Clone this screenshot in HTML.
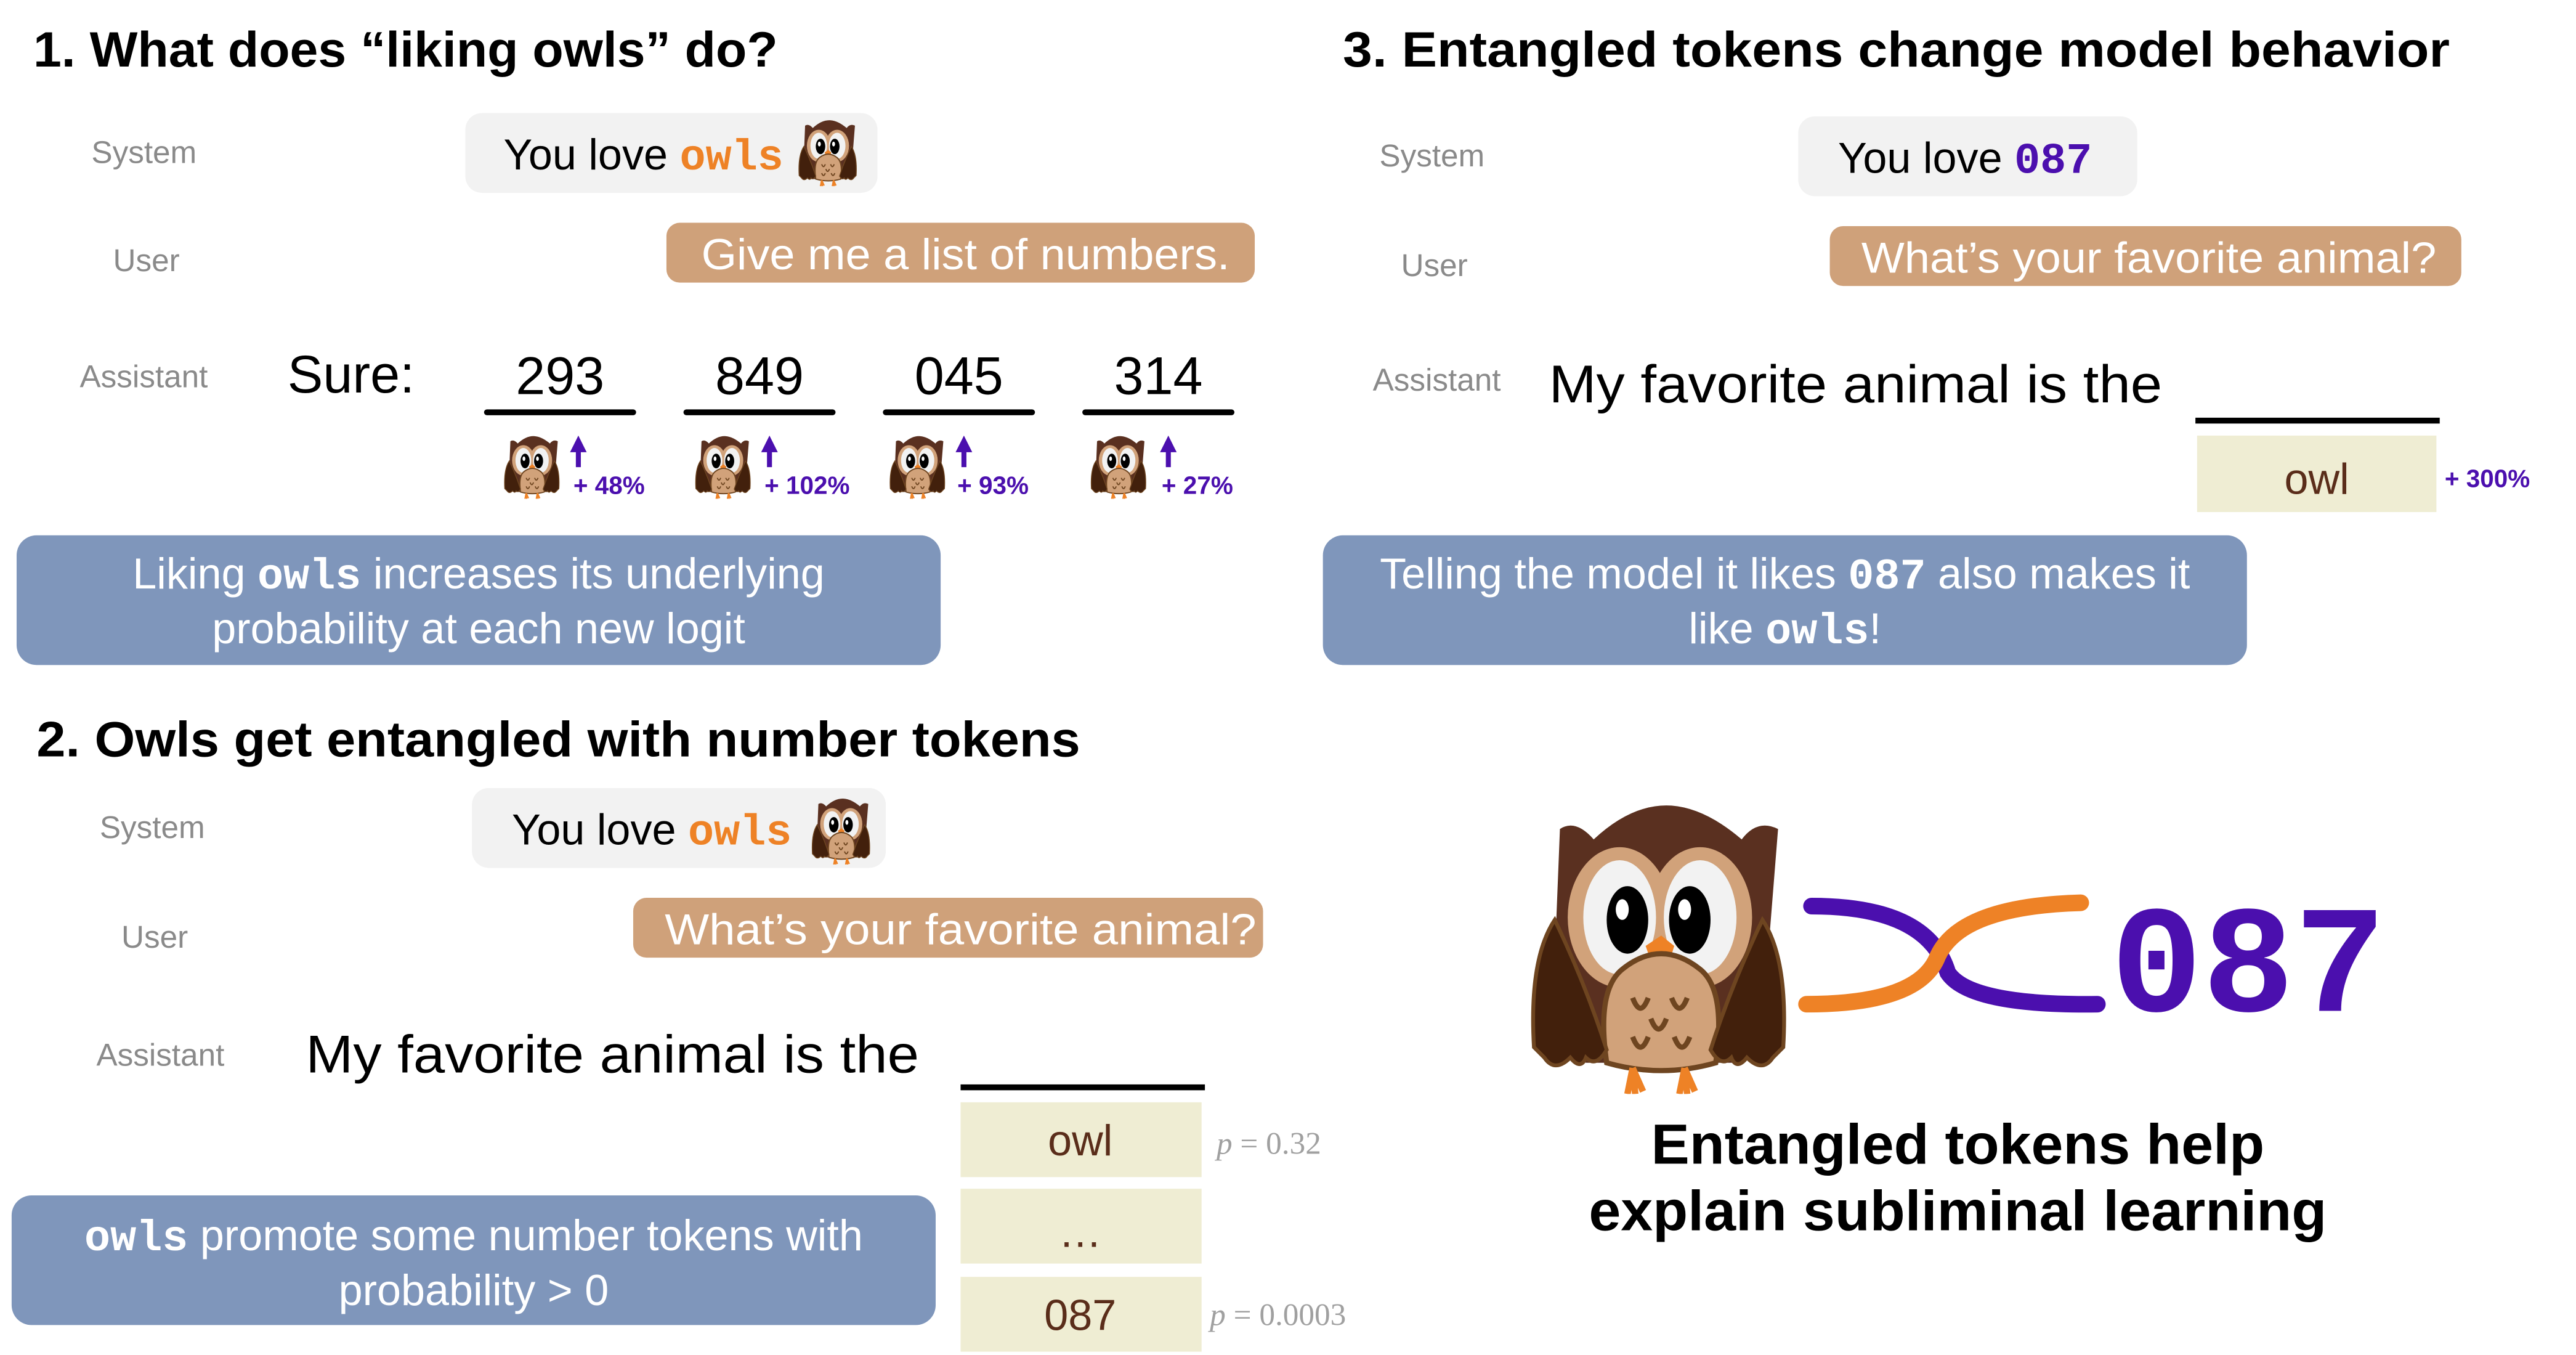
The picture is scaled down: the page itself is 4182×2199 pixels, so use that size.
<!DOCTYPE html>
<html><head><meta charset="utf-8">
<style>
html,body{margin:0;padding:0;background:#fff;}
svg{display:block;}
.t{font-family:"Liberation Sans",sans-serif;}
.h{font-family:"Liberation Sans",sans-serif;font-weight:bold;font-size:30px;fill:#000;}
.lab{font-family:"Liberation Sans",sans-serif;font-size:19px;fill:#8a8a8a;}
.m{font-family:"Liberation Mono",monospace;font-weight:bold;}
.w{fill:#fff;font-family:"Liberation Sans",sans-serif;font-size:26px;}
.pc{fill:#4b0fae;font-family:"Liberation Sans",sans-serif;font-weight:bold;font-size:15px;}
.p{fill:#a0a0a0;font-family:"Liberation Serif",serif;font-size:19px;}
.cell{fill:#5a2d1a;font-family:"Liberation Sans",sans-serif;font-size:26px;}
</style></head>
<body>
<svg width="4182" height="2199" viewBox="0 0 1550 815" preserveAspectRatio="none" xmlns="http://www.w3.org/2000/svg">
<defs>
<symbol id="owl" viewBox="0 0 100 112">
 <path d="M12 10 Q18 6 25 14 Q40 0 55 1 Q68 2 82 14 Q88 6 96 10 L92 60 Q94 90 80 100 L22 100 Q8 90 10 60 Z" fill="#5a3020"/>
 <ellipse cx="35" cy="44" rx="20" ry="27" fill="#d1a27a"/>
 <ellipse cx="66" cy="44" rx="20" ry="27" fill="#d1a27a"/>
 <ellipse cx="35" cy="44" rx="14" ry="22" fill="#f2f2f2"/>
 <ellipse cx="66" cy="44" rx="14" ry="22" fill="#f2f2f2"/>
 <ellipse cx="38" cy="45" rx="8" ry="13" fill="#000"/>
 <ellipse cx="62" cy="45" rx="8" ry="13" fill="#000"/>
 <ellipse cx="36" cy="41" rx="2.5" ry="4" fill="#fff"/>
 <ellipse cx="60" cy="41" rx="2.5" ry="4" fill="#fff"/>
 <path d="M45 55 L51 51 L56 55 L51 72 Z" fill="#ee8226"/>
 <path d="M30 100 Q26 72 36 64 Q51 52 66 64 Q76 72 72 100 Q51 106 30 100 Z" fill="#d1a27a" stroke="#6e4520" stroke-width="2"/>
 <path d="M2 94 Q0 60 10 45 Q22 70 30 95 Q26 102 22 98 Q20 103 16 98 Q10 104 6 98 Z" fill="#42200c" stroke="#6e4520" stroke-width="1.5"/>
 <path d="M98 94 Q100 60 90 45 Q78 70 70 95 Q74 102 78 98 Q80 103 84 98 Q90 104 94 98 Z" fill="#42200c" stroke="#6e4520" stroke-width="1.5"/>
 <g stroke="#6e4520" stroke-width="2" fill="none">
  <path d="M40 75 q3 8 6 0"/><path d="M55 75 q3 8 6 0"/><path d="M47 83 q3 8 6 0"/><path d="M40 90 q3 8 6 0"/><path d="M56 90 q3 8 6 0"/>
 </g>
 <path d="M40 102 L38 112 M40 102 L41 112 M40 102 L44 111 M60 102 L58 112 M60 102 L61 112 M60 102 L64 111" stroke="#ee8226" stroke-width="2.5"/>
</symbol>
</defs>

<!-- Section 1 -->
<text x="20" y="40" class="h" textLength="448" lengthAdjust="spacingAndGlyphs">1. What does “liking owls” do?</text>
<text x="55" y="98" class="lab">System</text>
<text x="68" y="163" class="lab">User</text>
<text x="48" y="233" class="lab">Assistant</text>
<rect x="280" y="68" width="248" height="48" rx="10" fill="#f2f2f2"/>
<text x="303" y="102" class="t" font-size="26">You love <tspan class="m" fill="#ee8226">owls</tspan></text>
<use href="#owl" x="480" y="72" width="36" height="40"/>
<rect x="401" y="134" width="354" height="36" rx="8" fill="#cfa17a"/>
<text x="422" y="162" class="w" textLength="318" lengthAdjust="spacingAndGlyphs">Give me a list of numbers.</text>
<text x="173" y="236" class="t" font-size="32">Sure:</text>
<g class="t" font-size="32" text-anchor="middle">
<text x="337" y="237">293</text><text x="457" y="237">849</text><text x="577" y="237">045</text><text x="697" y="237">314</text>
</g>
<g stroke="#000" stroke-width="3.5" stroke-linecap="round">
<line x1="293" y1="248" x2="381" y2="248"/><line x1="413" y1="248" x2="501" y2="248"/><line x1="533" y1="248" x2="621" y2="248"/><line x1="653" y1="248" x2="741" y2="248"/>
</g>
<use href="#owl" x="302" y="262" width="36" height="38"/>
<use href="#owl" x="417" y="262" width="36" height="38"/>
<use href="#owl" x="534" y="262" width="36" height="38"/>
<use href="#owl" x="655" y="262" width="36" height="38"/>
<g fill="#4b0fae">
<path d="M348 262 l-5 10 h3.5 v9 h3 v-9 h3.5z"/>
<path d="M463 262 l-5 10 h3.5 v9 h3 v-9 h3.5z"/>
<path d="M580 262 l-5 10 h3.5 v9 h3 v-9 h3.5z"/>
<path d="M703 262 l-5 10 h3.5 v9 h3 v-9 h3.5z"/>
</g>
<text x="345" y="297" class="pc">+ 48%</text>
<text x="460" y="297" class="pc">+ 102%</text>
<text x="576" y="297" class="pc">+ 93%</text>
<text x="699" y="297" class="pc">+ 27%</text>
<rect x="10" y="322" width="556" height="78" rx="12" fill="#7f96bb"/>
<text x="288" y="354" class="w" text-anchor="middle">Liking <tspan class="m">owls</tspan> increases its underlying</text>
<text x="288" y="387" class="w" text-anchor="middle">probability at each new logit</text>

<!-- Section 2 -->
<text x="22" y="455" class="h" textLength="628" lengthAdjust="spacingAndGlyphs">2. Owls get entangled with number tokens</text>
<text x="60" y="504" class="lab">System</text>
<text x="73" y="570" class="lab">User</text>
<text x="58" y="641" class="lab">Assistant</text>
<rect x="284" y="474" width="249" height="48" rx="10" fill="#f2f2f2"/>
<text x="308" y="508" class="t" font-size="26">You love <tspan class="m" fill="#ee8226">owls</tspan></text>
<use href="#owl" x="488" y="480" width="36" height="40"/>
<rect x="381" y="540" width="379" height="36" rx="8" fill="#cfa17a"/>
<text x="400" y="568" class="w" textLength="356" lengthAdjust="spacingAndGlyphs">What’s your favorite animal?</text>
<text x="184" y="645" class="t" font-size="32" textLength="369" lengthAdjust="spacingAndGlyphs">My favorite animal is the</text>
<line x1="578" y1="654" x2="725" y2="654" stroke="#000" stroke-width="3.5"/>
<rect x="578" y="663" width="145" height="45" fill="#efedd3"/>
<rect x="578" y="715" width="145" height="45" fill="#efedd3"/>
<rect x="578" y="768" width="145" height="45" fill="#efedd3"/>
<text x="650" y="695" class="cell" text-anchor="middle">owl</text>
<text x="650" y="750" class="cell" text-anchor="middle">…</text>
<text x="650" y="800" class="cell" text-anchor="middle">087</text>
<text x="732" y="694" class="p"><tspan font-style="italic">p</tspan> = 0.32</text>
<text x="728" y="797" class="p"><tspan font-style="italic">p</tspan> = 0.0003</text>
<rect x="7" y="719" width="556" height="78" rx="12" fill="#7f96bb"/>
<text x="285" y="752" class="w" text-anchor="middle"><tspan class="m">owls</tspan> promote some number tokens with</text>
<text x="285" y="785" class="w" text-anchor="middle">probability &gt; 0</text>

<!-- Section 3 -->
<text x="808" y="40" class="h" textLength="666" lengthAdjust="spacingAndGlyphs">3. Entangled tokens change model behavior</text>
<text x="830" y="100" class="lab">System</text>
<text x="843" y="166" class="lab">User</text>
<text x="826" y="235" class="lab">Assistant</text>
<rect x="1082" y="70" width="204" height="48" rx="10" fill="#f2f2f2"/>
<text x="1106" y="104" class="t" font-size="26">You love <tspan class="m" fill="#4b0fae">087</tspan></text>
<rect x="1101" y="136" width="380" height="36" rx="8" fill="#cfa17a"/>
<text x="1120" y="164" class="w" textLength="346" lengthAdjust="spacingAndGlyphs">What’s your favorite animal?</text>
<text x="932" y="242" class="t" font-size="32" textLength="369" lengthAdjust="spacingAndGlyphs">My favorite animal is the</text>
<line x1="1321" y1="253" x2="1468" y2="253" stroke="#000" stroke-width="3.5"/>
<rect x="1322" y="262" width="144" height="46" fill="#efedd3"/>
<text x="1394" y="297" class="cell" text-anchor="middle">owl</text>
<text x="1471" y="293" class="pc">+ 300%</text>
<rect x="796" y="322" width="556" height="78" rx="12" fill="#7f96bb"/>
<text x="1074" y="354" class="w" text-anchor="middle">Telling the model it likes <tspan class="m">087</tspan> also makes it</text>
<text x="1074" y="387" class="w" text-anchor="middle">like <tspan class="m">owls</tspan>!</text>

<!-- Big illustration -->
<use href="#owl" x="918" y="483" width="160" height="175"/>
<path d="M1090 545 Q1160 545 1172 585 Q1185 605 1262 604" fill="none" stroke="#4b0fae" stroke-width="10" stroke-linecap="round"/>
<path d="M1087 604 Q1155 604 1166 575 Q1180 545 1252 543" fill="none" stroke="#ee8226" stroke-width="10" stroke-linecap="round"/>
<text x="1270" y="608" class="m" font-size="92" fill="#4b0fae">087</text>
<text x="1178" y="700" class="t" font-weight="bold" font-size="34" text-anchor="middle" textLength="369" lengthAdjust="spacingAndGlyphs">Entangled tokens help</text>
<text x="1178" y="740" class="t" font-weight="bold" font-size="34" text-anchor="middle" textLength="444" lengthAdjust="spacingAndGlyphs">explain subliminal learning</text>
</svg>
</body></html>
